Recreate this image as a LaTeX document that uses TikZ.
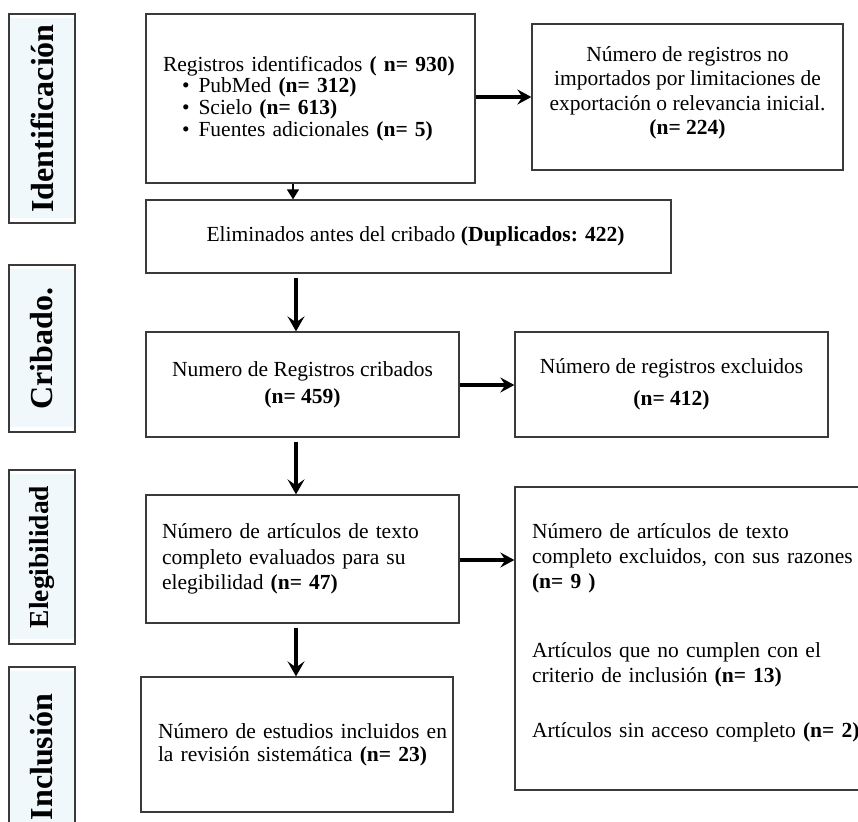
\documentclass[tikz,border=0pt]{standalone}
\usepackage{fontspec}
\setmainfont{Liberation Serif}
\usetikzlibrary{arrows.meta,calc}
\definecolor{boxline}{HTML}{3A3A3A}
\definecolor{lblue}{HTML}{F0F8FB}
\tikzset{
  box/.style={draw=boxline, line width=1.3pt, inner sep=0pt, fill=white,
    font=\fontsize{21.5}{24}\selectfont},
  side/.style={draw=boxline, line width=1.6pt, rotate=90, inner sep=0pt,
    minimum height=66pt, font=\fontsize{32}{34}\selectfont\bfseries,
    path picture={\fill[lblue] ([shift={(5pt,5pt)}]path picture bounding box.south west)
      rectangle ([shift={(-4pt,-4pt)}]path picture bounding box.north east);}},
  harr/.style={-{Stealth[length=14pt,width=15pt,inset=5pt]}, line width=3.6pt},
  varr/.style={-{Stealth[length=15pt,width=17pt,inset=6pt]}, line width=3.6pt},
}
\begin{document}
\begin{tikzpicture}[x=1pt,y=-1pt]
\useasboundingbox (0,0) rectangle (858,821);
\clip (0,0) rectangle (858,821);

% side labels
\node[side, minimum width=209pt] (sid) at (42,118.5) {Identificación};
\node[side, minimum width=167pt] (scr) at (42,348.5) {Cribado.};
\node[side, minimum width=174pt, font=\fontsize{27.5}{30}\selectfont\bfseries] (sel) at (42,557) {Elegibilidad};
\node[side, minimum width=180pt] (sin) at (42,757) {Inclusión};

% main boxes
\node[box, minimum width=329pt, minimum height=169pt, text width=295pt,
  inner xsep=17pt, align=left, font=\fontsize{21.5}{21.7}\selectfont] (ide) at (310.5,98.5)
  {Registros identificados \textbf{( n= 930)}\\
   \hspace*{19pt}\textbullet\hspace{9pt}PubMed \textbf{(n= 312)}\\
   \hspace*{19pt}\textbullet\hspace{9pt}Scielo \textbf{(n= 613)}\\
   \hspace*{19pt}\textbullet\hspace{9pt}Fuentes adicionales \textbf{(n= 5)}};

\node[box, minimum width=311pt, minimum height=146pt, align=center,
  font=\fontsize{21.5}{24.3}\selectfont] (noi) at (687.5,97)
  {Número de registros no\\ importados por limitaciones de\\ exportación o relevancia inicial.\\ \textbf{(n= 224)}\rule[-13pt]{0pt}{0pt}};

\node[box, minimum width=525pt, minimum height=73pt, align=center] (eli) at (408.5,236.5)
  {\hspace*{14pt}Eliminados antes del cribado \textbf{(Duplicados: 422)}};

\node[box, minimum width=313pt, minimum height=105pt, align=center,
  font=\fontsize{21.5}{27}\selectfont] (cri) at (302.5,384.5)
  {Numero de Registros cribados\\ \textbf{(n= 459)}};

\node[box, minimum width=313pt, minimum height=105pt, align=center,
  font=\fontsize{21.5}{32}\selectfont] (exc) at (671.5,384.5)
  {Número de registros excluidos\\ \textbf{(n= 412)}};

\node[box, minimum width=313pt, minimum height=128pt, text width=281pt,
  inner xsep=16pt, align=left, font=\fontsize{21.5}{25.5}\selectfont] (eva) at (302.5,559)
  {Número de artículos de texto\\ completo evaluados para su\\ elegibilidad \textbf{(n= 47)}};

\node[box, minimum width=365pt, minimum height=303pt, text width=331pt,
  inner xsep=17pt, align=left, font=\fontsize{21.5}{25}\selectfont] (rex) at (697.5,638.5)
  {Número de artículos de texto\\ completo excluidos, con sus razones\\ \textbf{(n= 9 )}\\[44pt]
   Artículos que no cumplen con el\\ criterio de inclusión \textbf{(n= 13)}\\[30pt]
   Artículos sin acceso completo \textbf{(n= 2)}\rule[-15pt]{0pt}{0pt}};

\node[box, minimum width=312pt, minimum height=135pt, text width=278pt,
  inner xsep=17pt, align=left, font=\fontsize{21.5}{23}\selectfont] (inc) at (297,744.5)
  {\mbox{Número de estudios incluidos en}\\ \mbox{la revisión sistemática \textbf{(n= 23)}}};

% columns for vertical arrows
\coordinate (c1) at (293,0);
\coordinate (c2) at (296,0);

% connectors
\draw[harr] (ide.east |- 0,97) -- (noi.west |- 0,97);
\draw[-{Triangle[length=10pt,width=12pt]}, line width=1.5pt] (ide.south -| c1) -- (eli.north -| c1);
\draw[varr, shorten <=4pt] (eli.south -| c2) -- (cri.north -| c2);
\draw[harr] (cri.east |- 0,385) -- (exc.west |- 0,385);
\draw[varr, shorten <=4pt] (cri.south -| c2) -- (eva.north -| c2);
\draw[harr] (eva.east |- 0,560) -- (rex.west |- 0,560);
\draw[varr, shorten <=4pt] (eva.south -| c2) -- (inc.north -| c2);
\end{tikzpicture}
\end{document}
